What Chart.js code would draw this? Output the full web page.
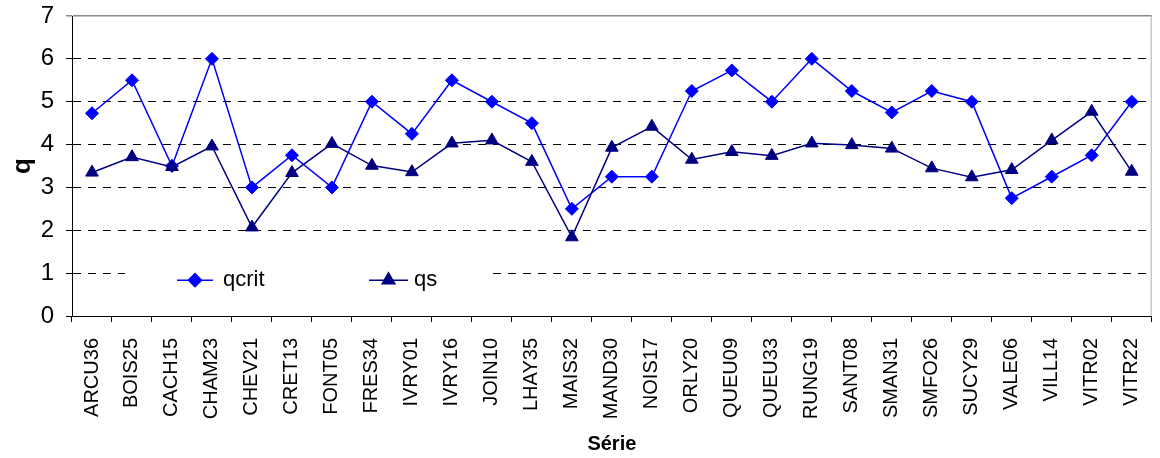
<!DOCTYPE html>
<html>
<head>
<meta charset="utf-8">
<script src="https://cdn.jsdelivr.net/npm/chart.js@4.4.0/dist/chart.umd.min.js"></script>
<style>
  html, body { margin: 0; padding: 0; background: #fff; }
  #wrap { width: 1160px; height: 458px; position: relative; }
</style>
</head>
<body>
<div id="wrap"><canvas id="chart"></canvas></div>
<script>
const stations = [
  "ARCU36", "BOIS25", "CACH15", "CHAM23", "CHEV21", "CRET13", "FONT05",
  "FRES34", "IVRY01", "IVRY16", "JOIN10", "LHAY35", "MAIS32", "MAND30",
  "NOIS17", "ORLY20", "QUEU09", "QUEU33", "RUNG19", "SANT08", "SMAN31",
  "SMFO26", "SUCY29", "VALE06", "VILL14", "VITR02", "VITR22",
];
const qcrit = [
  4.73, 5.5, 3.5, 6, 3, 3.75, 3, 5, 4.25, 5.5, 5, 4.5, 2.5, 3.25,
  3.25, 5.25, 5.73, 5, 6, 5.25, 4.75, 5.25, 5, 2.75, 3.25, 3.75, 5,
];
const qs = [
  3.35, 3.71, 3.48, 3.96, 2.07, 3.34, 4.02, 3.51, 3.36, 4.03, 4.1, 3.6, 1.84, 3.93,
  4.42, 3.65, 3.83, 3.74, 4.03, 3.99, 3.91, 3.45, 3.24, 3.41, 4.1, 4.77, 3.37,
];
const yMin = 0;
const yMax = 7;

const FONT = "'Liberation Sans', Arial, sans-serif";

// excel-style legend box sitting inside the plot, over the y=1 gridline
const insideLegend = {
  id: "insideLegend",
  afterDatasetsDraw(chart) {
    const ctx = chart.ctx;
    const area = chart.chartArea;
    const cy = chart.scales.y.getPixelForValue(1) + 7;
    ctx.save();
    ctx.fillStyle = "#fff";
    ctx.fillRect(area.left + 53, cy - 18, 363, 36);
    const slots = [
      { x: area.left + 105, w: 36, tx: area.left + 151 },
      { x: area.left + 297, w: 39, tx: area.left + 342 },
    ];
    chart.data.datasets.forEach((ds, i) => {
      const s = slots[i];
      ctx.strokeStyle = ds.borderColor;
      ctx.lineWidth = ds.borderWidth;
      ctx.beginPath();
      ctx.moveTo(s.x, cy);
      ctx.lineTo(s.x + s.w, cy);
      ctx.stroke();
      ctx.fillStyle = ds.pointBackgroundColor;
      ctx.strokeStyle = ds.pointBorderColor;
      Chart.helpers.drawPoint(ctx, {
        pointStyle: ds.pointStyle, radius: ds.pointRadius, rotation: 0, borderWidth: 1,
      }, s.x + s.w / 2, cy);
      ctx.fillStyle = "#000";
      ctx.font = "22px " + FONT;
      ctx.textBaseline = "middle";
      ctx.textAlign = "left";
      ctx.fillText(ds.label, s.tx, cy);
    });
    ctx.restore();
  },
};

// light grey frame on the right edge of the plot
const rightFrame = {
  id: "rightFrame",
  beforeDatasetsDraw(chart) {
    const { ctx, chartArea: a } = chart;
    ctx.save();
    ctx.strokeStyle = "#b0b0b0";
    ctx.lineWidth = 1;
    ctx.beginPath();
    ctx.moveTo(a.right - 0.5, a.top);
    ctx.lineTo(a.right - 0.5, a.bottom);
    ctx.stroke();
    ctx.restore();
  },
};

new Chart(document.getElementById("chart"), {
  type: "line",
  data: {
    labels: stations,
    datasets: [
      {
        label: "qcrit",
        data: qcrit,
        borderColor: "#0000ff",
        backgroundColor: "#0000ff",
        pointBackgroundColor: "#0000ff",
        pointBorderColor: "#0000ff",
        borderWidth: 1.5,
        pointStyle: "rectRot",
        pointRadius: 6.5,
        pointBorderWidth: 1,
        tension: 0,
        order: 1,
      },
      {
        label: "qs",
        data: qs,
        borderColor: "#000080",
        backgroundColor: "#000080",
        pointBackgroundColor: "#000080",
        pointBorderColor: "#000080",
        borderWidth: 1.5,
        pointStyle: "triangle",
        pointRadius: 7.3,
        pointBorderWidth: 1,
        tension: 0,
        order: 0,
      },
    ],
  },
  options: {
    responsive: true,
    maintainAspectRatio: false,
    animation: false,
    layout: { padding: { top: 16, right: 1, left: 0, bottom: 0 } },
    plugins: {
      legend: { display: false },
      tooltip: { enabled: false },
    },
    scales: {
      x: {
        offset: true,
        grid: {
          offset: true,
          drawOnChartArea: false,
          color: "#000",
          tickLength: 6,
        },
        border: { color: "#000", width: 1 },
        ticks: {
          autoSkip: false,
          maxRotation: 90,
          minRotation: 90,
          padding: 16,
          color: "#000",
          font: { family: FONT, size: 20 },
        },
        title: {
          display: true,
          text: "Série",
          color: "#000",
          font: { family: FONT, size: 20, weight: "bold" },
          padding: { top: 0, bottom: 2 },
        },
        afterFit: (scale) => {
          scale.height = 142;
          scale.paddingLeft = 0;
          scale.paddingRight = 0;
        },
      },
      y: {
        min: yMin,
        max: yMax,
        ticks: {
          stepSize: 1,
          padding: 12,
          color: "#000",
          font: { family: FONT, size: 24 },
        },
        grid: {
          color: (c) => (c.tick && c.tick.value === yMax ? "#8a8a8a" : "#000"),
          tickColor: (c) => (c.tick && c.tick.value === yMax ? "#8a8a8a" : "#000"),
          lineWidth: (c) => (c.tick && c.tick.value === yMax ? 1.5 : 1),
          tickLength: 6,
        },
        border: {
          color: "#000",
          width: 1,
          dash: (c) => (c.tick && (c.tick.value === yMax || c.tick.value === yMin) ? [] : [8, 7]),
        },
        title: {
          display: true,
          text: "q",
          color: "#000",
          font: { family: FONT, size: 26, weight: "bold" },
          padding: { top: 7, bottom: 0 },
        },
        afterFit: (scale) => {
          scale.width = 72;
          scale.paddingTop = 0;
          scale.paddingBottom = 0;
        },
      },
    },
  },
  plugins: [rightFrame, insideLegend],
});
</script>
</body>
</html>
